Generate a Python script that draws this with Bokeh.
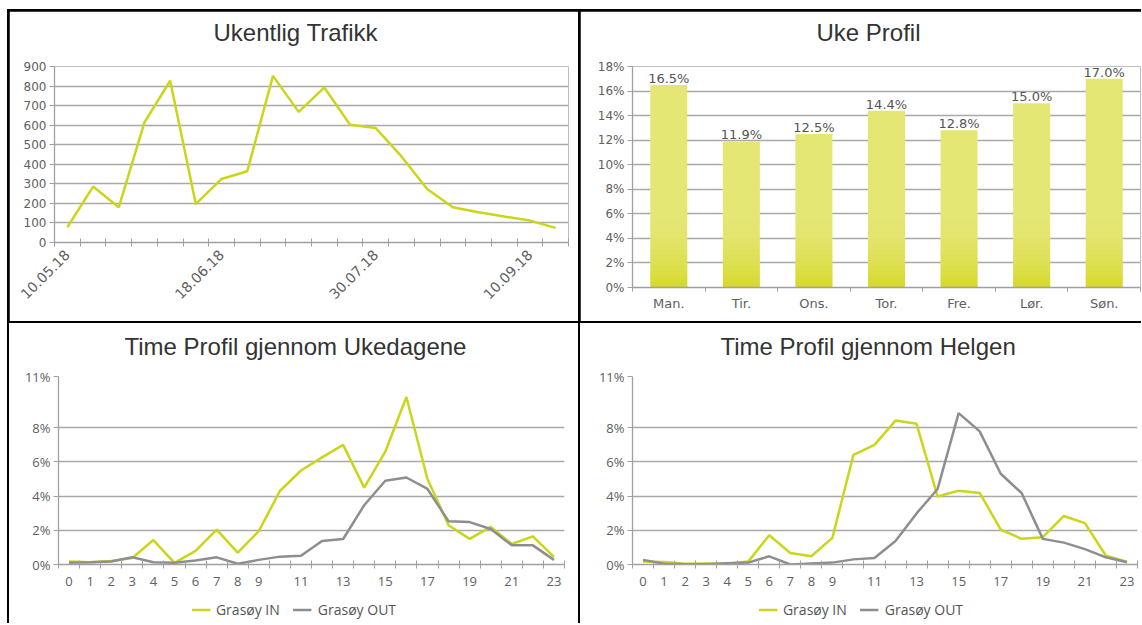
import math
from bokeh.plotting import figure
from bokeh.models import (FixedTicker, PrintfTickFormatter, Legend, LegendItem,
                          Range1d, Spacer, Title)
from bokeh.layouts import row, column
from bokeh.embed import file_html
from bokeh.resources import INLINE
from bokeh.core.properties import value

# ---------------- data ----------------
week_labels = ["10.05.18", "14.05.18", "21.05.18", "28.05.18", "04.06.18",
               "11.06.18", "18.06.18", "25.06.18", "02.07.18", "09.07.18",
               "16.07.18", "23.07.18", "30.07.18", "06.08.18", "13.08.18",
               "20.08.18", "27.08.18", "03.09.18", "10.09.18", "17.09.18"]
shown_week_ticks = [0, 6, 12, 18]
weekly_traffic = [78, 286, 180, 614, 827, 197, 325, 364, 852, 668,
                  793, 602, 585, 440, 274, 180, 155, 133, 112, 75]

days = ["Man.", "Tir.", "Ons.", "Tor.", "Fre.", "Lør.", "Søn."]
day_share = [16.5, 11.9, 12.5, 14.4, 12.8, 15.0, 17.0]

hours = list(range(24))
hour_tick_labels = [0, 1, 2, 3, 4, 5, 6, 7, 8, 9, 11, 13, 15, 17, 19, 21, 23]
weekday_in = [0.17, 0.13, 0.2, 0.38, 1.43, 0.1, 0.8, 2.04, 0.7, 1.95, 4.3, 5.5,
              6.27, 7.0, 4.5, 6.6, 9.8, 5.0, 2.3, 1.5, 2.2, 1.2, 1.65, 0.45]
weekday_out = [0.1, 0.13, 0.17, 0.42, 0.13, 0.1, 0.23, 0.42, 0.04, 0.27, 0.46, 0.51,
               1.37, 1.49, 3.47, 4.9, 5.09, 4.42, 2.53, 2.48, 2.08, 1.12, 1.12, 0.27]
weekend_in = [0.17, 0.15, 0.04, 0.06, 0.04, 0.17, 1.71, 0.67, 0.48, 1.56, 6.42, 7.0,
              8.42, 8.23, 3.98, 4.32, 4.19, 2.04, 1.5, 1.6, 2.84, 2.42, 0.51, 0.17]
weekend_out = [0.27, 0.04, 0.02, 0.02, 0.08, 0.11, 0.48, 0.0, 0.06, 0.11, 0.3, 0.38,
               1.37, 2.99, 4.42, 8.86, 7.79, 5.31, 4.17, 1.5, 1.28, 0.9, 0.42, 0.13]
pct_ticks_bottom = [0, 2, 4, 6, 8, 11]
series_names = ["Grasøy IN", "Grasøy OUT"]

# ---------------- styles ----------------
YELLOW = "#cbd51a"
GREY = "#8e8e8e"
BAR = "#e5e775"
BAR_DARK = "#cdd100"
GRID = "#a9a9a9"
AXIS = "#a0a0a0"
TICK_TXT = "#606060"
TITLE_TXT = "#333333"


def no_align(p):
    try:
        p.frame_align = False
    except Exception:
        pass


def base_fig(w, h, xr, yr, title, bl, br, bt, bb, title_offset, title_standoff, gap):
    p = figure(width=w, height=h, output_backend="svg", toolbar_location=None,
               x_range=xr, y_range=yr, min_border_left=bl, min_border_right=br,
               min_border_top=bt, min_border_bottom=bb)
    no_align(p)
    # thin empty strip between the frame and the title
    p.add_layout(Title(text=" ", text_font_size="2px", standoff=gap), "above")
    p.title.text = title
    p.title.align = "left"
    p.title.offset = title_offset
    p.title.text_font = "Liberation Sans"
    p.title.text_font_size = "24px"
    p.title.text_font_style = "normal"
    p.title.text_color = TITLE_TXT
    p.title.standoff = title_standoff
    p.outline_line_color = None
    p.background_fill_color = "white"
    p.border_fill_color = "white"
    p.xgrid.grid_line_color = None
    p.ygrid.grid_line_color = GRID
    p.ygrid.grid_line_width = 1.3
    for ax in (p.xaxis[0], p.yaxis[0]):
        ax.axis_line_color = AXIS
        ax.axis_line_width = 1.3
        ax.major_tick_line_color = AXIS
        ax.minor_tick_line_color = AXIS
        ax.major_label_text_color = TICK_TXT
        ax.major_label_text_font = "DejaVu Sans"
        ax.major_label_text_font_size = "12px"
    p.yaxis.major_tick_in = 0
    p.yaxis.major_tick_out = 5
    p.yaxis.minor_tick_line_color = None
    p.yaxis.major_label_standoff = 3
    p.xaxis.major_tick_line_color = None
    p.xaxis.minor_tick_in = 4
    p.xaxis.minor_tick_out = 4
    return p


# ---------- top-left: weekly traffic ----------
n_w = len(weekly_traffic)
p1 = base_fig(569, 310, Range1d(-0.5, n_w - 0.5), Range1d(0, 900),
              "Ukentlig Trafikk", 45, 10, 55, 79, 159, 11, 11)
p1.xaxis.ticker = FixedTicker(ticks=shown_week_ticks,
                              minor_ticks=[i - 0.5 for i in range(n_w + 1)])
p1.xaxis.major_label_overrides = {i: week_labels[i] for i in shown_week_ticks}
p1.xaxis.major_label_orientation = math.pi / 4
p1.xaxis.major_label_text_font_size = "14px"
p1.xaxis.major_tick_out = 6
p1.xaxis.major_label_standoff = 4
p1.yaxis.ticker = FixedTicker(ticks=list(range(0, 901, 100)))
p1.line(list(range(n_w)), weekly_traffic, color=YELLOW, line_width=2.5)

# ---------- top-right: week profile ----------
n_d = len(days)
idx = list(range(n_d))
p2 = base_fig(561, 310, Range1d(-0.5, n_d - 0.5), Range1d(0, 18),
              "Uke Profil", 52, 1, 55, 34, 184, 11, 11)
p2.xaxis.ticker = FixedTicker(ticks=idx, minor_ticks=[i - 0.5 for i in range(n_d + 1)])
p2.xaxis.major_label_overrides = {i: days[i] for i in idx}
p2.xaxis.major_label_text_font_size = "13px"
p2.xaxis.minor_tick_in = 0
p2.xaxis.minor_tick_out = 4
p2.xaxis.major_label_standoff = 2
p2.yaxis.ticker = FixedTicker(ticks=list(range(0, 19, 2)))
p2.yaxis.formatter = PrintfTickFormatter(format="%d%%")
p2.vbar(x=idx, top=day_share, width=0.51, fill_color=BAR, line_color=None)
# soft darker shading toward the bar foot (imitates the gradient)
n_shade = 12
for k in range(n_shade):
    b0, b1 = k * 0.45, (k + 1) * 0.45
    a = 0.6 * (1 - k / n_shade) ** 1.6
    p2.vbar(x=idx, bottom=[b0] * n_d, top=[min(v, b1) for v in day_share],
            width=0.51, fill_color=BAR_DARK, fill_alpha=a, line_color=None)
p2.text(x=idx, y=day_share, text=[f"{v:.1f}%" for v in day_share],
        text_align="center", text_baseline="bottom", y_offset=1,
        text_font=value("DejaVu Sans"), text_font_size="13px", text_color="#555555")


# ---------- bottom: hourly profiles ----------
def hour_fig(w, title, bl, br, offset, s_in, s_out):
    p = base_fig(w, 272, Range1d(-0.5, 23.5), Range1d(0, 11), title,
                 bl, br, 53, 31, offset, 13, 6)
    p.xaxis.ticker = FixedTicker(ticks=hour_tick_labels,
                                 minor_ticks=[i - 0.5 for i in range(25)])
    p.xaxis.major_label_standoff = 6
    p.yaxis.ticker = FixedTicker(ticks=pct_ticks_bottom)
    p.yaxis.formatter = PrintfTickFormatter(format="%d%%")
    for ax in (p.xaxis[0], p.yaxis[0]):
        ax.major_label_text_font = "Open Sans"
        ax.major_label_text_font_size = "13px"
    p.line(hours, s_in, color=YELLOW, line_width=2.5)
    p.line(hours, s_out, color=GREY, line_width=2.5)

    # legend strip under the chart (same series, kept out of view)
    lg = figure(width=w, height=28, output_backend="svg", toolbar_location=None,
                x_range=Range1d(100, 101), y_range=Range1d(-101, -100),
                x_axis_location=None, y_axis_location=None,
                min_border=0, outline_line_color=None)
    no_align(lg)
    lg.xgrid.visible = False
    lg.ygrid.visible = False
    lg.background_fill_color = "white"
    lg.border_fill_color = "white"
    l_in = lg.line(hours, s_in, color=YELLOW, line_width=2.5)
    l_out = lg.line(hours, s_out, color=GREY, line_width=2.5)
    leg = Legend(items=[LegendItem(label=series_names[0], renderers=[l_in]),
                        LegendItem(label=series_names[1], renderers=[l_out])],
                 orientation="horizontal", location="center",
                 border_line_color=None, background_fill_alpha=0,
                 label_text_font="Open Sans", label_text_font_size="14px",
                 label_text_color="#555555", glyph_width=19, glyph_height=12,
                 label_standoff=6, spacing=13, padding=2, margin=0)
    lg.add_layout(leg, "center")
    return column(p, lg, spacing=0, styles={"background-color": "white"})


p3 = hour_fig(569, "Time Profil gjennom Ukedagene", 49, 14, 66,
              weekday_in, weekday_out)
p4 = hour_fig(561, "Time Profil gjennom Helgen", 52, 4, 88,
              weekend_in, weekend_out)

grid = column(Spacer(width=0, height=0),
              row(Spacer(width=0, height=0), p1, p2, spacing=2),
              row(Spacer(width=0, height=0), p3, p4, spacing=2),
              spacing=2, styles={"background-color": "black"})

layout = column(Spacer(width=0, height=9),
                row(Spacer(width=7, height=0), grid))

open("out.html", "w").write(file_html(layout, INLINE))
